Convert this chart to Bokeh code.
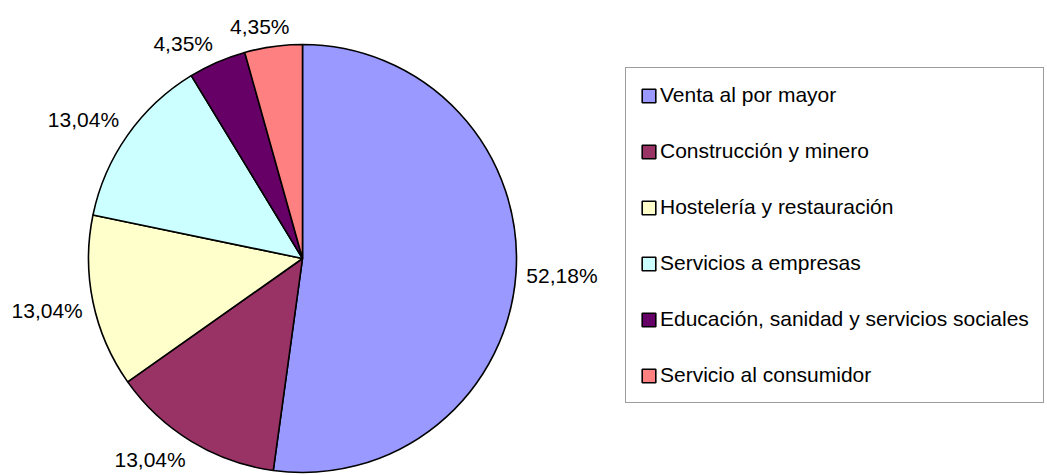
import numpy as np
from bokeh.plotting import figure
from bokeh.models import Range1d, Legend, LegendItem, ColumnDataSource
from bokeh.embed import file_html
from bokeh.resources import INLINE
from bokeh.core.properties import value

# ---- data ----
categories = [
    "Venta al por mayor",
    "Construcción y minero",
    "Hostelería y restauración",
    "Servicios a empresas",
    "Educación, sanidad y servicios sociales",
    "Servicio al consumidor",
]
shares = [52.18, 13.04, 13.04, 13.04, 4.35, 4.35]
pct_labels = ["52,18%", "13,04%", "13,04%", "13,04%", "4,35%", "4,35%"]
colors = ["#9999FF", "#993366", "#FFFFCC", "#CCFFFF", "#660066", "#FF8080"]

# ---- layout ----
W, H = 1047, 475
CX, CY, R = 302, 217, 214       # pie centre/radius in plot units (1 unit = 1 px)
FONT = "Liberation Sans"

p = figure(width=W, height=H, output_backend="svg", toolbar_location=None,
           x_range=Range1d(0, W), y_range=Range1d(0, H),
           x_axis_type=None, y_axis_type=None, min_border=0)
p.grid.visible = False
p.outline_line_color = None
p.background_fill_color = "white"
p.border_fill_color = "white"

vals = np.array(shares, dtype=float)
frac = vals / vals.sum()
cum_after = np.cumsum(frac)
cum_before = cum_after - frac
start = np.pi / 2 - 2 * np.pi * cum_before
end = np.pi / 2 - 2 * np.pi * cum_after

src = ColumnDataSource(dict(
    x=[CX] * len(shares), y=[CY] * len(shares),
    start=start, end=end, color=colors, cat=categories,
))
wr = p.wedge(x="x", y="y", radius=R, start_angle="start", end_angle="end",
             direction="clock", fill_color="color", line_color="black",
             line_width=1.6, source=src)

# ---- percentage labels outside the pie ----
mid = (cum_before + cum_after) / 2 * 2 * np.pi   # clockwise from top
ux = np.sin(mid)
uy = np.cos(mid)
gap = 10
hw = np.array([len(t) * 6.0 for t in pct_labels])
hh = 10.0
lx = CX + (R + gap) * ux + hw * np.clip(3 * ux, -1, 1)
ly = CY + (R + gap) * uy + hh * np.clip(3 * uy, -1, 1)
p.text(x=lx, y=ly, text=pct_labels, text_align="center", text_baseline="middle",
       text_font=value(FONT), text_font_size="21px", text_color="black")

# ---- legend ----
items = [LegendItem(label=c, renderers=[wr], index=i) for i, c in enumerate(categories)]
legend = Legend(items=items, location=(625, 72), orientation="vertical",
                padding=14, spacing=30, margin=0,
                glyph_width=17, glyph_height=17, label_height=26, label_standoff=3,
                label_text_font=FONT, label_text_font_size="21px",
                label_text_color="black",
                border_line_color="#3a3a3a", border_line_width=1.2,
                background_fill_color="white", background_fill_alpha=1.0)
p.add_layout(legend, "center")

open("out.html", "w").write(file_html(p, INLINE))
